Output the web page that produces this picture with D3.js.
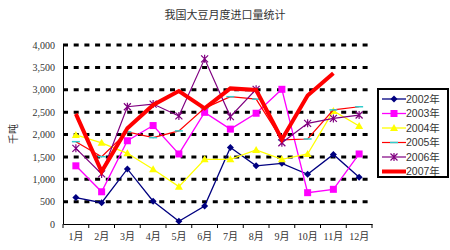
<!DOCTYPE html>
<html>
<head>
<meta charset="utf-8">
<script src="https://cdn.jsdelivr.net/npm/d3@7"></script>
<style>
  body { margin: 0; background: #fff; }
  svg { display: block; }
</style>
</head>
<body>
<div id="chart"></div>
<script>
//data
var months = ['1月', '2月', '3月', '4月', '5月', '6月', '7月', '8月', '9月', '10月', '11月', '12月'];
var yTicks = [0, 500, 1000, 1500, 2000, 2500, 3000, 3500, 4000];
var seriesNames = ['2002年', '2003年', '2004年', '2005年', '2006年', '2007年'];
var v2002 = [590, 475, 1230, 510, 60, 400, 1710, 1300, 1355, 1110, 1555, 1045];
var v2003 = [1300, 720, 1860, 2200, 1565, 2495, 2120, 2475, 3010, 700, 775, 1565];
var v2004 = [1990, 1815, 1580, 1225, 835, 1445, 1445, 1655, 1445, 1565, 2525, 2190];
var v2005 = [1840, 1505, 2060, 1930, 2080, 2590, 2845, 2790, 1880, 1900, 2550, 2620];
var v2006 = [1690, 1120, 2620, 2680, 2415, 3690, 2400, 3010, 1815, 2250, 2360, 2435];
var v2007 = [2460, 1170, 2140, 2660, 2970, 2585, 3030, 2995, 1890, 2870, 3370, null];

//styles per series
var styles = [
  {values: v2002, color: '#000080', width: 1.3, marker: 'diamond', mcolor: '#000080'},
  {values: v2003, color: '#FF00FF', width: 1.3, marker: 'square', mcolor: '#FF00FF'},
  {values: v2004, color: '#FFFF00', width: 1.3, marker: 'triangle', mcolor: '#FFFF00'},
  {values: v2005, color: '#FF0000', width: 1.2, marker: 'dash', mcolor: '#33CCCC'},
  {values: v2006, color: '#800080', width: 1.2, marker: 'star', mcolor: '#800080'},
  {values: v2007, color: '#FF0000', width: 4, marker: 'none', mcolor: '#FF0000'}
];

var W = 450, H = 250;
var margin = {top: 45, right: 78, bottom: 26, left: 63};
var width = W - margin.left - margin.right;
var height = H - margin.top - margin.bottom;

var svg = d3.select('#chart').append('svg')
  .attr('width', W)
  .attr('height', H);

//title
svg.append('text')
  .attr('x', 225)
  .attr('y', 19)
  .attr('text-anchor', 'middle')
  .attr('font-family', '"Noto Sans CJK SC", sans-serif')
  .attr('font-size', 11)
  .attr('fill', '#333')
  .text('我国大豆月度进口量统计');

//axis title
svg.append('text')
  .attr('transform', 'translate(17,134) rotate(-90)')
  .attr('text-anchor', 'middle')
  .attr('font-family', '"Noto Sans CJK SC", sans-serif')
  .attr('font-size', 10)
  .attr('fill', '#333')
  .text('千吨');

var g = svg.append('g')
  .attr('transform', 'translate(' + margin.left + ',' + margin.top + ')');

var x = d3.scaleBand()
  .domain(months)
  .range([0, width]);

var y = d3.scaleLinear()
  .domain([0, 4000])
  .range([height, 0]);

//dashed gridlines
g.append('g')
  .selectAll('line')
  .data(yTicks.filter(function(d) { return d > 0; }))
  .enter().append('line')
  .attr('x1', 0)
  .attr('x2', width)
  .attr('y1', function(d) { return y(d); })
  .attr('y2', function(d) { return y(d); })
  .attr('stroke', '#000')
  .attr('stroke-width', 3)
  .attr('stroke-dasharray', '5,5.7');

//y axis
var yAxis = g.append('g')
  .call(d3.axisLeft(y).tickValues(yTicks).tickSize(0).tickPadding(8)
    .tickFormat(d3.format(',')));
yAxis.select('.domain').attr('stroke', '#000');
yAxis.selectAll('text')
  .attr('font-family', '"Liberation Serif", serif')
  .attr('font-size', 10)
  .attr('fill', '#333');

//x axis, ticks between the months
var xAxis = g.append('g')
  .attr('transform', 'translate(0,' + height + ')')
  .call(d3.axisBottom(x).tickSize(0).tickPadding(9));
xAxis.select('.domain').attr('stroke', '#000');
xAxis.selectAll('text')
  .attr('font-family', '"Liberation Serif", "Noto Sans CJK SC", serif')
  .attr('font-size', 10)
  .attr('fill', '#333');
xAxis.selectAll('.sep')
  .data(d3.range(months.length + 1))
  .enter().append('line')
  .attr('class', 'sep')
  .attr('x1', function(i) { return i * x.bandwidth(); })
  .attr('x2', function(i) { return i * x.bandwidth(); })
  .attr('y1', 0)
  .attr('y2', 4)
  .attr('stroke', '#000');

var line = d3.line()
  .defined(function(d) { return d != null; })
  .x(function(d, i) { return x(months[i]) + x.bandwidth() / 2; })
  .y(function(d) { return y(d); });

function drawMarker(sel, type, color, cx, cy) {
  if (type == 'diamond') {
    sel.append('path')
      .attr('d', 'M' + cx + ',' + (cy - 3.5) + 'L' + (cx + 3.5) + ',' + cy + 'L' + cx + ',' + (cy + 3.5) + 'L' + (cx - 3.5) + ',' + cy + 'Z')
      .attr('fill', color);
  } else if (type == 'square') {
    sel.append('rect')
      .attr('x', cx - 3.5).attr('y', cy - 3.5)
      .attr('width', 7).attr('height', 7)
      .attr('fill', color);
  } else if (type == 'triangle') {
    sel.append('path')
      .attr('d', 'M' + cx + ',' + (cy - 4) + 'L' + (cx + 4) + ',' + (cy + 3) + 'L' + (cx - 4) + ',' + (cy + 3) + 'Z')
      .attr('fill', color);
  } else if (type == 'dash') {
    sel.append('line')
      .attr('x1', cx - 4).attr('x2', cx + 4)
      .attr('y1', cy).attr('y2', cy)
      .attr('stroke', color).attr('stroke-width', 1.5);
  } else if (type == 'star') {
    sel.append('path')
      .attr('d', 'M' + (cx - 3.5) + ',' + (cy - 3.5) + 'L' + (cx + 3.5) + ',' + (cy + 3.5) +
        'M' + (cx + 3.5) + ',' + (cy - 3.5) + 'L' + (cx - 3.5) + ',' + (cy + 3.5) +
        'M' + cx + ',' + (cy - 4) + 'L' + cx + ',' + (cy + 4))
      .attr('stroke', color).attr('stroke-width', 1.2).attr('fill', 'none');
  }
}

//lines and markers
styles.forEach(function(s) {
  g.append('path')
    .datum(s.values)
    .attr('d', line)
    .attr('fill', 'none')
    .attr('stroke', s.color)
    .attr('stroke-width', s.width)
    .attr('stroke-linejoin', 'miter');

  var mg = g.append('g');
  s.values.forEach(function(v, i) {
    if (v == null) return;
    drawMarker(mg, s.marker, s.mcolor, x(months[i]) + x.bandwidth() / 2, y(v));
  });
});

//legend
var legend = svg.append('g')
  .attr('transform', 'translate(378,89)');

legend.append('rect')
  .attr('width', 70)
  .attr('height', 88)
  .attr('fill', '#fff')
  .attr('stroke', '#000')
  .attr('stroke-width', 2);

var items = legend.selectAll('.item')
  .data(styles)
  .enter().append('g')
  .attr('class', 'item')
  .attr('transform', function(d, i) {
    return 'translate(0,' + (10 + i * 14.5) + ')';
  });

items.append('line')
  .attr('x1', 4)
  .attr('x2', 28)
  .attr('stroke', function(d) { return d.color; })
  .attr('stroke-width', function(d) { return d.width; });

items.each(function(d) {
  drawMarker(d3.select(this), d.marker, d.mcolor, 16, 0);
});

items.append('text')
  .attr('x', 28)
  .attr('dy', '0.35em')
  .attr('font-family', '"Liberation Sans", "Noto Sans CJK SC", sans-serif')
  .attr('font-size', 10.5)
  .attr('fill', '#333')
  .text(function(d, i) { return seriesNames[i]; });
</script>
</body>
</html>
